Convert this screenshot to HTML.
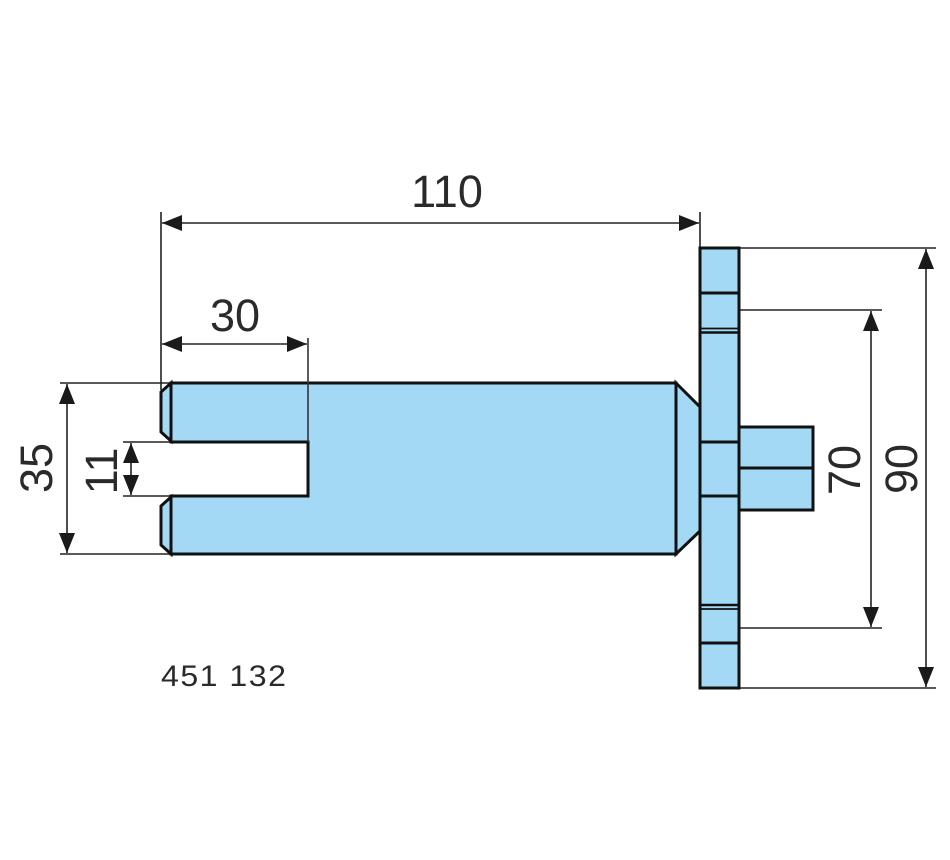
<!DOCTYPE html>
<html>
<head>
<meta charset="utf-8">
<style>
  html,body{margin:0;padding:0;background:#fff;}
  svg{display:block;}
  text{font-family:"Liberation Sans", sans-serif; fill:#2a2a2a;}
</style>
</head>
<body>
<svg width="950" height="860" viewBox="0 0 950 860" xmlns="http://www.w3.org/2000/svg">
  <defs>
    <marker id="a" viewBox="0 0 20 16" refX="20" refY="8" markerWidth="20" markerHeight="16" markerUnits="userSpaceOnUse" orient="auto-start-reverse">
      <path d="M0,0 L20,8 L0,16 Z" fill="#1a1a1a"/>
    </marker>
  </defs>

  <!-- extension lines -->
  <g stroke="#222" stroke-width="1.6" fill="none">
    <line x1="161" y1="212" x2="161" y2="390"/>
    <line x1="700" y1="212" x2="700" y2="248"/>
    <line x1="60" y1="383" x2="171" y2="383"/>
    <line x1="60" y1="554" x2="171" y2="554"/>
    <line x1="123" y1="442" x2="171" y2="442"/>
    <line x1="123" y1="496" x2="171" y2="496"/>
    <line x1="739" y1="248" x2="936" y2="248"/>
    <line x1="739" y1="688" x2="936" y2="688"/>
    <line x1="739" y1="310" x2="882" y2="310"/>
    <line x1="739" y1="628" x2="882" y2="628"/>
  </g>

  <!-- dimension lines -->
  <g stroke="#222" stroke-width="1.6" fill="none">
    <line x1="162" y1="223" x2="699" y2="223" marker-start="url(#a)" marker-end="url(#a)"/>
    <line x1="162" y1="344" x2="307" y2="344" marker-start="url(#a)" marker-end="url(#a)"/>
    <line x1="67" y1="384" x2="67" y2="553" marker-start="url(#a)" marker-end="url(#a)"/>
    <line x1="131" y1="443" x2="131" y2="495" marker-start="url(#a)" marker-end="url(#a)"/>
    <line x1="871" y1="311" x2="871" y2="627" marker-start="url(#a)" marker-end="url(#a)"/>
    <line x1="926" y1="249" x2="926" y2="687" marker-start="url(#a)" marker-end="url(#a)"/>
  </g>

  <!-- part -->
  <g fill="#a3d9f5" stroke="#111" stroke-width="3" stroke-linejoin="miter">
    <path d="M171,383 L676,383 L676,554 L171,554 L171,496 L308,496 L308,442 L171,442 Z"/>
    <path d="M676,383 L700,407 L700,531 L676,554 Z"/>
    <path d="M171,383 L161,392 L161,432 L171,441 Z"/>
    <path d="M171,497 L161,506 L161,545 L171,554 Z"/>
    <rect x="700" y="248" width="39" height="440"/>
    <rect x="739" y="427" width="74" height="83"/>
  </g>
  <g stroke="#111" fill="none">
    <line x1="700" y1="293" x2="739" y2="293" stroke-width="3"/>
    <line x1="700" y1="328.5" x2="739" y2="328.5" stroke-width="1.8"/>
    <line x1="700" y1="332.5" x2="739" y2="332.5" stroke-width="2.4"/>
    <line x1="700" y1="442" x2="739" y2="442" stroke-width="3"/>
    <line x1="700" y1="496" x2="739" y2="496" stroke-width="3"/>
    <line x1="700" y1="605" x2="739" y2="605" stroke-width="2.4"/>
    <line x1="700" y1="609" x2="739" y2="609" stroke-width="1.8"/>
    <line x1="700" y1="643" x2="739" y2="643" stroke-width="3"/>
    <line x1="739" y1="468" x2="813" y2="468" stroke-width="3"/>
  </g>
  <!-- extension line of 30 visible over part -->
  <line x1="308" y1="338" x2="308" y2="442" stroke="#333" stroke-width="1.6"/>

  <!-- labels -->
  <text x="447" y="207" font-size="45" text-anchor="middle">110</text>
  <text x="235" y="331" font-size="45" text-anchor="middle">30</text>
  <text transform="translate(52,468) rotate(-90)" font-size="45" text-anchor="middle">35</text>
  <text transform="translate(117,471) rotate(-90)" font-size="45" text-anchor="middle">11</text>
  <text transform="translate(860,470) rotate(-90)" font-size="45" text-anchor="middle">70</text>
  <text transform="translate(917,469) rotate(-90)" font-size="45" text-anchor="middle">90</text>
  <text transform="translate(161,686) scale(1.07,1)" font-size="30" letter-spacing="1.4">451 132</text>
</svg>
</body>
</html>
